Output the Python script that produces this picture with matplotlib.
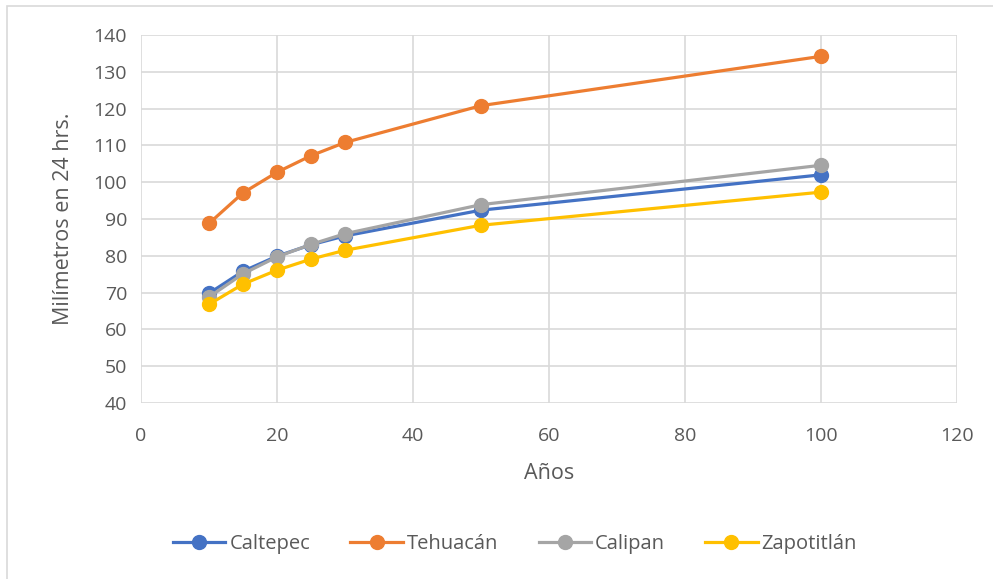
import matplotlib
matplotlib.use("Agg")
import matplotlib.pyplot as plt
from matplotlib.patches import Rectangle

plt.rcParams['font.family'] = ['Open Sans', 'DejaVu Sans']

# Return periods (years)
anios = [10, 15, 20, 25, 30, 50, 100]

# Maximum 24-hour rainfall (mm) per station
caltepec = [69.8, 75.8, 79.9, 83.0, 85.4, 92.4, 102.0]
tehuacan = [88.8, 97.1, 102.7, 107.2, 110.8, 120.8, 134.2]
calipan = [68.8, 75.1, 79.7, 83.1, 86.0, 93.9, 104.6]
zapotitlan = [66.8, 72.3, 76.1, 79.1, 81.5, 88.3, 97.3]

series = [
    ("Caltepec", caltepec, "#4472C4"),
    ("Tehuacán", tehuacan, "#ED7D31"),
    ("Calipan", calipan, "#A5A5A5"),
    ("Zapotitlán", zapotitlan, "#FFC000"),
]

x_ticks = [0, 20, 40, 60, 80, 100, 120]
y_ticks = [40, 50, 60, 70, 80, 90, 100, 110, 120, 130, 140]

W, H = 993, 579
fig = plt.figure(figsize=(W / 100, H / 100), dpi=100)
fig.patch.set_facecolor("white")

# Chart frame
fig.patches.append(Rectangle((7 / W, -0.05), 1.2, 1 - 6 / H + 0.05,
                             transform=fig.transFigure, fill=False,
                             edgecolor="#D9D9D9", linewidth=1.2))

ax = fig.add_axes([141 / W, 1 - 403 / H, (957 - 141) / W, (403 - 35) / H])

for name, vals, color in series:
    ax.plot(anios, vals, color=color, linewidth=2.3, marker="o",
            markersize=10, label=name, zorder=3)

ax.set_xlim(0, 120)
ax.set_ylim(40, 140)
ax.set_xticks(x_ticks)
ax.set_yticks(y_ticks)
ax.grid(True, color="#D9D9D9", linewidth=1.2, zorder=0)
ax.set_axisbelow(True)
for s in ax.spines.values():
    s.set_visible(False)
ax.tick_params(length=0, labelsize=14, labelcolor="#595959")
ax.tick_params(axis="x", pad=17)
ax.tick_params(axis="y", pad=10)

ax.set_xlabel("Años", fontsize=15.5, color="#595959", labelpad=13)
ax.set_ylabel("Milímetros en 24 hrs.", fontsize=15.5, color="#595959", labelpad=14)

leg = fig.legend(loc="center", bbox_to_anchor=(515 / W, 1 - 544 / H), ncol=4,
                 frameon=False, fontsize=14.5, handlelength=2.6,
                 columnspacing=2.0, handletextpad=0.2, labelcolor="#595959")

fig.savefig("out.png", dpi=100, facecolor="white")
